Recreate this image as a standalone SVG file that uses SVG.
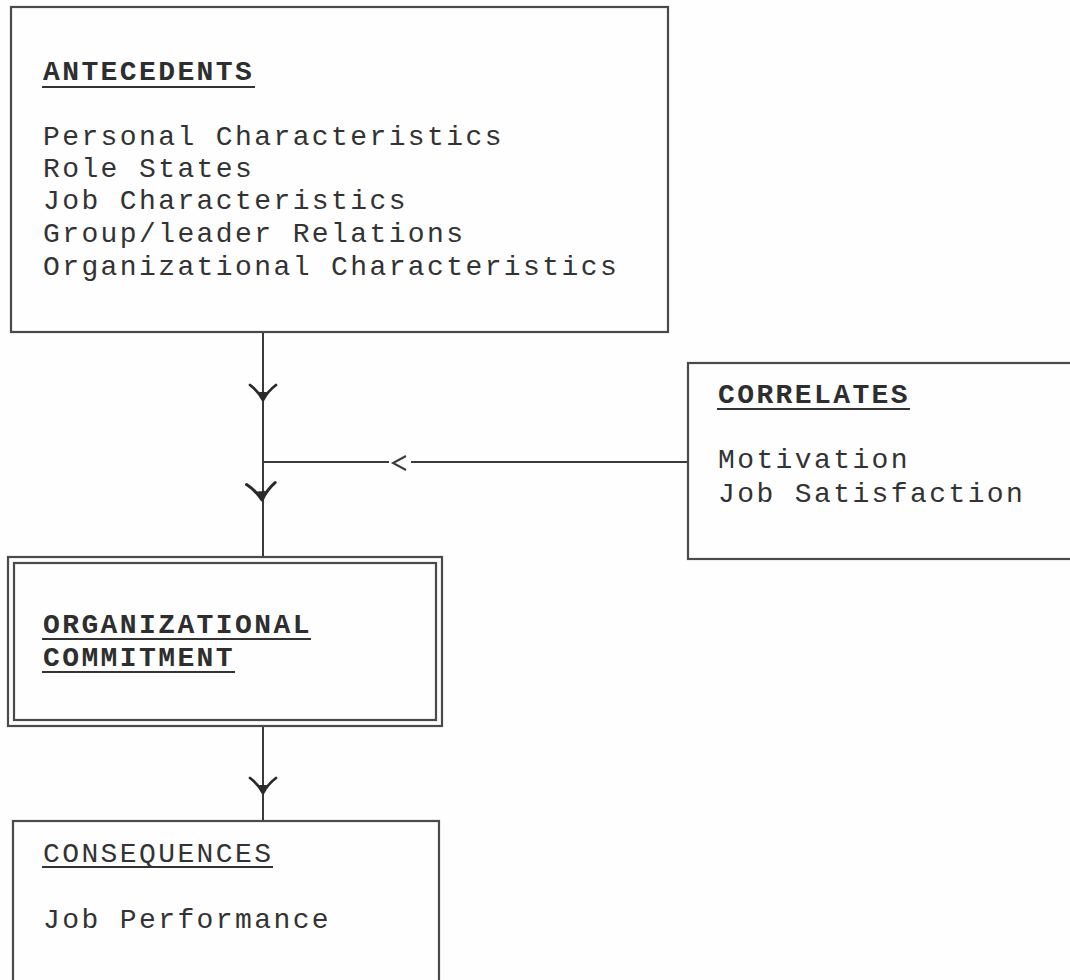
<svg xmlns="http://www.w3.org/2000/svg" width="1070" height="980" viewBox="0 0 1070 980">
  <style>
    .box { fill: none; stroke: #4a4a4a; stroke-width: 2.2; }
    .wire { fill: none; stroke: #3a3a3a; stroke-width: 2; }
    .head { fill: none; stroke: #2a2a2a; stroke-width: 2.8; stroke-linecap: round; stroke-linejoin: round; }
    .tip { fill: #2a2a2a; }
    .ul { stroke: #333; stroke-width: 2; }
    .title { font-family: "Liberation Mono", "Courier New", monospace; font-size: 28px; letter-spacing: 2.4px; font-weight: bold; fill: #2e2e2e; }
    .title-light { font-family: "Liberation Mono", "Courier New", monospace; font-size: 28px; letter-spacing: 2.4px; fill: #333; }
    .item { font-family: "Liberation Mono", "Courier New", monospace; font-size: 28px; letter-spacing: 2.4px; fill: #333; }
  </style>
  <defs>
    <!-- downward pointing typewriter-style arrowhead, tip at origin -->
    <g id="vhead">
      <path class="head" d="M -13 -15 Q -5 -9 0 0 Q 5 -9 13 -15"/>
      <path class="tip" d="M -4 -8 L 0 1 L 4 -8 Z"/>
    </g>
  </defs>

  <rect width="1070" height="980" fill="#fefefe"/>

  <!-- connectors -->
  <g id="connectors">
    <line class="wire" x1="263" y1="332" x2="263" y2="557"/>
    <use href="#vhead" transform="translate(263,400)"/>
    <use href="#vhead" transform="translate(262,500) rotate(-4) scale(1.1)"/>
    <line class="wire" x1="263" y1="462" x2="389" y2="462"/>
    <line class="wire" x1="411" y1="462" x2="688" y2="462"/>
    <polyline class="wire" points="406,456 393,463 406,470"/>
    <line class="wire" x1="263" y1="726" x2="263" y2="821"/>
    <use href="#vhead" transform="translate(263,793)"/>
  </g>

  <!-- antecedents -->
  <g id="antecedents">
    <rect class="box" x="11" y="7" width="657" height="325"/>
    <text class="title" x="43" y="80">ANTECEDENTS</text>
    <line class="ul" x1="42" y1="87" x2="255" y2="87"/>
    <text class="item" x="43" y="145">Personal Characteristics</text>
    <text class="item" x="43" y="177">Role States</text>
    <text class="item" x="43" y="209">Job Characteristics</text>
    <text class="item" x="43" y="242">Group/leader Relations</text>
    <text class="item" x="43" y="275">Organizational Characteristics</text>
  </g>

  <!-- correlates -->
  <g id="correlates">
    <rect class="box" x="688" y="363" width="400" height="196"/>
    <text class="title" x="718" y="403">CORRELATES</text>
    <line class="ul" x1="717" y1="409" x2="910" y2="409"/>
    <text class="item" x="718" y="468">Motivation</text>
    <text class="item" x="718" y="502">Job Satisfaction</text>
  </g>

  <!-- organizational commitment (double frame) -->
  <g id="commitment">
    <rect class="box" x="8" y="557" width="434" height="169"/>
    <rect class="box" x="14" y="563" width="422" height="157"/>
    <text class="title" x="43" y="633">ORGANIZATIONAL</text>
    <line class="ul" x1="42" y1="639" x2="311" y2="639"/>
    <text class="title" x="43" y="666">COMMITMENT</text>
    <line class="ul" x1="42" y1="672" x2="235" y2="672"/>
  </g>

  <!-- consequences -->
  <g id="consequences">
    <rect class="box" x="13" y="821" width="426" height="180"/>
    <text class="title-light" x="43" y="862">CONSEQUENCES</text>
    <line class="ul" x1="42" y1="867" x2="273" y2="867"/>
    <text class="item" x="43" y="928">Job Performance</text>
  </g>
</svg>
